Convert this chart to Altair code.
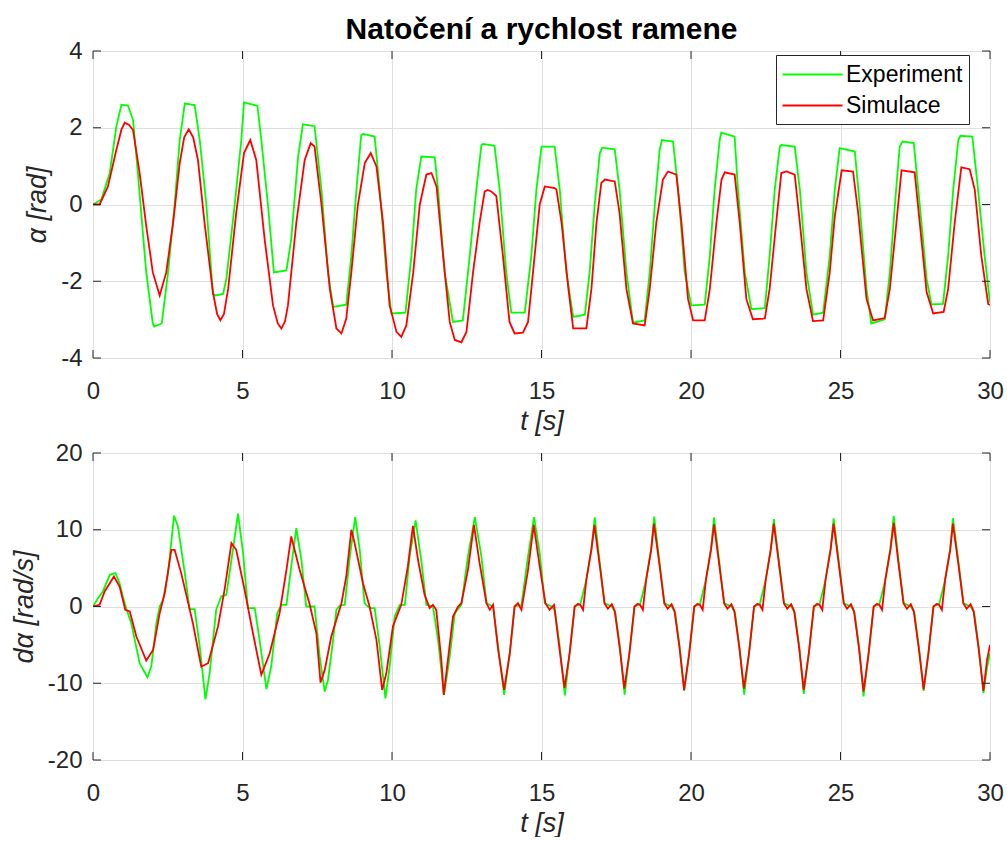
import altair as alt
import pandas as pd

TITLE = "Natočení a rychlost ramene"
SERIES = ["Experiment", "Simulace"]
COLORS = ["#00ff00", "#ff0000"]
X_TICKS = [0, 5, 10, 15, 20, 25, 30]
Y1_TICKS = [-4, -2, 0, 2, 4]
Y2_TICKS = [-20, -10, 0, 10, 20]
X_TITLE = "t [s]"
Y1_TITLE = "α [rad]"
Y2_TITLE = "dα [rad/s]"

# top panel: arm angle (t [s], alpha [rad])
ALPHA_EXP = [
    (0, 0), (0.28, 0.13), (0.56, 0.82), (0.78, 2.03), (0.95, 2.6), (1.17, 2.58), (1.34, 2.2),
    (1.5, 0.82), (1.78, -1.77), (2.0, -3.1), (2.05, -3.18), (2.3, -3.1), (2.51, -1.77), (2.73, 0),
    (2.9, 1.68), (3.07, 2.63), (3.4, 2.59), (3.57, 1.68), (3.79, 0), (4.01, -2.33), (4.1, -2.37),
    (4.35, -2.33), (4.46, -1.94), (4.74, 0), (4.96, 1.68), (5.05, 2.66), (5.5, 2.57), (5.63, 1.68),
    (5.85, 0), (6.05, -1.77), (6.47, -1.72), (6.63, -0.9), (6.86, 1.25), (7.02, 2.09), (7.41, 2.04),
    (7.64, 0.39), (7.86, -1.77), (8.03, -2.67), (8.47, -2.61), (8.64, -1.34), (8.81, 0.39),
    (8.97, 1.81), (9.03, 1.84), (9.42, 1.77), (9.59, 0.39), (9.81, -1.77), (9.98, -2.84),
    (10.45, -2.82), (10.65, -1.34), (10.81, 0.39), (10.98, 1.25), (11.43, 1.23), (11.54, 0.39),
    (11.76, -1.77), (12.04, -3.06), (12.37, -3.02), (12.6, -1.34), (12.82, 0.39), (12.99, 1.55),
    (13.04, 1.58), (13.43, 1.53), (13.6, 0.39), (13.82, -1.77), (13.99, -2.82), (14.44, -2.82),
    (14.66, -1.34), (14.83, 0.39), (15.0, 1.51), (15.44, 1.51), (15.61, 0.39), (15.83, -1.77),
    (16.06, -2.93), (16.45, -2.87), (16.61, -1.77), (16.78, 0), (16.95, 1.34), (17.03, 1.48),
    (17.45, 1.44), (17.61, 0.39), (17.84, -1.77), (18.06, -3.08), (18.45, -3.02), (18.62, -1.77),
    (18.79, 0), (18.95, 1.42), (19.03, 1.68), (19.4, 1.64), (19.57, 0.39), (19.79, -1.77),
    (20.01, -2.63), (20.46, -2.61), (20.63, -1.34), (20.79, 0.39), (20.96, 1.68), (21.01, 1.87),
    (21.46, 1.77), (21.57, 0.39), (21.8, -1.77), (22.02, -2.73), (22.47, -2.7), (22.63, -1.34),
    (22.8, 0.39), (22.97, 1.51), (23.02, 1.55), (23.47, 1.51), (23.64, 0.39), (23.86, -1.77),
    (24.08, -2.87), (24.42, -2.82), (24.64, -1.34), (24.81, 0.39), (24.97, 1.47), (25.48, 1.38),
    (25.64, 0), (25.87, -2.2), (26.03, -3.1), (26.48, -2.99), (26.65, -1.77), (26.82, 0),
    (26.98, 1.51), (27.07, 1.64), (27.45, 1.6), (27.65, 0), (27.88, -1.94), (28.04, -2.6),
    (28.43, -2.59), (28.6, -1.34), (28.77, 0.39), (28.94, 1.68), (29.01, 1.79), (29.41, 1.77),
    (29.6, 0.39), (29.82, -1.34), (30.0, -2.55),
]
ALPHA_SIM = [
    (0, 0), (0.22, 0), (0.5, 0.47), (0.78, 1.42), (0.95, 1.95), (1.06, 2.13), (1.2, 2.08),
    (1.34, 1.94), (1.56, 0.82), (1.78, -0.56), (2.0, -1.77), (2.23, -2.37), (2.45, -1.77),
    (2.68, -0.47), (2.9, 1.08), (3.05, 1.75), (3.2, 1.96), (3.35, 1.75), (3.51, 1.16),
    (3.73, -0.47), (4.01, -2.28), (4.15, -2.85), (4.26, -3.02), (4.38, -2.85), (4.52, -2.2),
    (4.79, -0.22), (5.05, 1.34), (5.26, 1.68), (5.46, 1.16), (5.74, -0.9), (6.02, -2.63),
    (6.18, -3.1), (6.3, -3.23), (6.42, -3.05), (6.52, -2.63), (6.8, -0.47), (7.08, 1.16),
    (7.28, 1.6), (7.41, 1.51), (7.64, 0), (7.92, -2.2), (8.14, -3.23), (8.31, -3.36),
    (8.47, -2.97), (8.64, -1.77), (8.86, 0), (9.09, 1.08), (9.29, 1.34), (9.48, 0.99),
    (9.7, -0.47), (9.92, -2.63), (10.15, -3.32), (10.31, -3.45), (10.48, -3.15), (10.71, -1.77),
    (10.93, 0), (11.15, 0.78), (11.32, 0.82), (11.49, 0.47), (11.71, -1.34), (11.93, -3.06),
    (12.1, -3.53), (12.32, -3.59), (12.49, -3.32), (12.71, -1.77), (12.93, -0.47), (13.1, 0.34),
    (13.2, 0.38), (13.32, 0.34), (13.49, 0.22), (13.71, -1.34), (13.93, -3.06), (14.1, -3.36),
    (14.38, -3.34), (14.55, -3.06), (14.77, -1.34), (14.94, 0), (15.11, 0.47), (15.44, 0.43),
    (15.5, 0.39), (15.67, -0.47), (15.9, -2.2), (16.06, -3.23), (16.5, -3.23), (16.67, -2.2),
    (16.84, -0.47), (17.0, 0.56), (17.12, 0.65), (17.45, 0.6), (17.61, -0.22), (17.84, -2.2),
    (18.06, -3.1), (18.45, -3.15), (18.62, -2.2), (18.84, -0.47), (19.06, 0.65), (19.23, 0.86),
    (19.51, 0.78), (19.68, -0.47), (19.9, -2.46), (20.07, -3.02), (20.46, -3.02), (20.63, -2.2),
    (20.85, -0.47), (21.02, 0.65), (21.13, 0.84), (21.46, 0.78), (21.63, -0.47), (21.85, -2.46),
    (22.07, -2.99), (22.47, -2.97), (22.63, -2.2), (22.85, -0.47), (23.02, 0.82), (23.19, 0.86),
    (23.47, 0.78), (23.64, -0.47), (23.86, -2.2), (24.08, -3.04), (24.42, -3.02), (24.64, -1.77),
    (24.81, -0.3), (25.04, 0.89), (25.42, 0.86), (25.59, -0.22), (25.87, -2.46), (26.09, -3.02),
    (26.48, -2.96), (26.65, -2.2), (26.87, -0.47), (27.04, 0.89), (27.48, 0.84), (27.65, -0.47),
    (27.88, -2.28), (28.1, -2.84), (28.45, -2.8), (28.6, -2.2), (28.82, -0.47), (29.04, 0.97),
    (29.32, 0.92), (29.49, 0.39), (29.71, -1.34), (29.94, -2.59), (30.0, -2.62),
]

# bottom panel: arm angular velocity (t [s], dalpha [rad/s])
DALPHA_EXP = [
    (0, 0), (0.17, 1.09), (0.33, 1.96), (0.56, 4.13), (0.75, 4.35), (0.89, 3.04), (1.0, 1.3),
    (1.11, -0.22), (1.28, -2.17), (1.56, -7.39), (1.82, -9.22), (1.95, -7.83), (2.12, -2.17),
    (2.23, 0), (2.34, 0.87), (2.51, 4.35), (2.71, 11.83), (2.84, 10.43), (3.07, 4.35),
    (3.23, -0.35), (3.4, -0.35), (3.57, -5.22), (3.76, -12.09), (3.9, -8.7), (4.12, -0.43),
    (4.29, 1.3), (4.46, 1.52), (4.63, 6.09), (4.85, 12.09), (5.02, 6.96), (5.18, -0.22),
    (5.41, -0.22), (5.57, -4.35), (5.8, -10.78), (5.96, -7.83), (6.16, -0.87), (6.3, 0.22),
    (6.47, 0.22), (6.63, 5.22), (6.8, 10.22), (6.97, 6.09), (7.13, 0), (7.41, 0), (7.58, -6.5),
    (7.75, -11.09), (7.86, -9.57), (8.03, -4.35), (8.14, -0.43), (8.25, 0.13), (8.42, 0.22),
    (8.59, 6.52), (8.77, 11.65), (8.92, 7.39), (9.08, 0.43), (9.25, -0.22), (9.42, -0.22),
    (9.59, -5.22), (9.78, -11.96), (9.92, -7.83), (10.09, -1.3), (10.26, 0.22), (10.43, 0.22),
    (10.59, 6.52), (10.79, 11.22), (10.99, 5.65), (11.15, 0.22), (11.37, 0), (11.54, -4.35),
    (11.74, -11.52), (11.93, -6.52), (12.1, -0.87), (12.32, 0.22), (12.54, 6.52), (12.77, 11.65),
    (12.99, 6.52), (13.16, 0.43), (13.38, 0), (13.55, -5.22), (13.75, -11.52), (13.94, -6.09),
    (14.1, 0), (14.33, 0.22), (14.55, 6.52), (14.75, 11.65), (14.94, 6.96), (15.11, 0.43),
    (15.33, 0), (15.45, -0.5), (15.61, -5.2), (15.78, -11.6), (15.94, -6.1), (16.11, 0),
    (16.3, 0.3), (16.5, 3.5), (16.67, 7.6), (16.78, 11.6), (16.94, 6.0), (17.11, 0.4),
    (17.35, 0), (17.47, -0.8), (17.62, -5.2), (17.78, -11.5), (17.94, -6.1), (18.11, 0),
    (18.3, 0.3), (18.5, 3.5), (18.67, 7.6), (18.77, 11.7), (18.94, 6.0), (19.11, 0.4),
    (19.35, 0), (19.47, -0.8), (19.62, -5.2), (19.77, -11.0), (19.94, -6.1), (20.11, 0),
    (20.3, 0.3), (20.5, 3.5), (20.67, 7.6), (20.77, 11.6), (20.94, 6.0), (21.11, 0.4),
    (21.35, 0), (21.47, -0.8), (21.62, -5.2), (21.78, -11.5), (21.94, -6.1), (22.11, 0),
    (22.3, 0.3), (22.5, 3.5), (22.67, 7.6), (22.77, 11.4), (22.94, 6.0), (23.11, 0.4),
    (23.35, 0), (23.47, -0.8), (23.62, -5.2), (23.77, -11.4), (23.94, -6.1), (24.11, 0),
    (24.3, 0.3), (24.5, 3.5), (24.67, 7.6), (24.77, 11.5), (24.94, 6.0), (25.11, 0.4),
    (25.35, 0), (25.47, -0.8), (25.62, -5.2), (25.77, -11.7), (25.94, -6.1), (26.11, 0),
    (26.3, 0.3), (26.5, 3.5), (26.67, 7.6), (26.78, 11.8), (26.94, 6.0), (27.11, 0.4),
    (27.35, 0), (27.47, -0.8), (27.62, -5.2), (27.78, -11.0), (27.94, -6.1), (28.11, 0),
    (28.3, 0.3), (28.5, 3.5), (28.67, 7.6), (28.76, 11.5), (28.94, 6.0), (29.11, 0.4),
    (29.35, 0), (29.47, -0.8), (29.62, -5.2), (29.78, -11.3), (29.9, -8.0), (30.0, -6.1),
]
DALPHA_SIM = [
    (0, 0), (0.22, 0.22), (0.39, 1.96), (0.7, 3.91), (0.89, 2.61), (1.08, -0.43), (1.23, -0.65),
    (1.45, -3.91), (1.78, -7.04), (2.01, -5.65), (2.23, -0.87), (2.4, 1.74), (2.62, 7.39),
    (2.73, 7.39), (2.95, 4.35), (3.34, -2.17), (3.62, -7.83), (3.85, -7.39), (4.18, -2.61),
    (4.4, 2.17), (4.63, 8.26), (4.79, 7.39), (5.07, 2.17), (5.35, -3.48), (5.63, -8.91),
    (5.91, -6.09), (6.24, -0.87), (6.47, 4.78), (6.63, 9.13), (6.91, 4.78), (7.25, 0.22),
    (7.47, -3.48), (7.61, -9.91), (7.75, -8.26), (7.97, -3.91), (8.14, -1.74), (8.31, 0.43),
    (8.47, 3.91), (8.64, 10.0), (8.75, 8.26), (9.03, 3.04), (9.25, 0), (9.48, -4.35),
    (9.67, -10.87), (9.81, -8.7), (10.03, -2.61), (10.2, -0.87), (10.31, 0.22), (10.53, 5.22),
    (10.7, 10.52), (10.87, 6.09), (11.09, 1.52), (11.26, -0.22), (11.37, 0.22), (11.48, -0.43),
    (11.65, -6.96), (11.73, -11.52), (11.87, -6.96), (12.04, -1.3), (12.21, 0), (12.32, 0.43),
    (12.54, 4.78), (12.74, 10.65), (12.93, 5.65), (13.16, 0.43), (13.27, -0.43), (13.38, 0.22),
    (13.55, -5.65), (13.75, -10.87), (13.94, -6.09), (14.1, 0), (14.21, 0.43), (14.33, -0.43),
    (14.55, 4.78), (14.74, 10.65), (14.94, 5.22), (15.13, 0.43), (15.27, -0.43), (15.42, 0.22),
    (15.6, -5.5), (15.77, -10.6), (15.94, -6.1), (16.11, 0), (16.22, 0.35), (16.3, 0.2),
    (16.39, -0.43), (16.5, 3.5), (16.67, 7.4), (16.77, 10.6), (16.94, 5.6), (17.11, 0.4),
    (17.22, -0.3), (17.35, 0.3), (17.45, -0.6), (17.62, -5.5), (17.77, -10.7), (17.94, -6.1),
    (18.11, 0), (18.22, 0.35), (18.3, 0.2), (18.39, -0.43), (18.5, 3.5), (18.67, 7.4),
    (18.76, 10.8), (18.94, 5.6), (19.11, 0.4), (19.22, -0.3), (19.35, 0.3), (19.45, -0.6),
    (19.62, -5.5), (19.77, -10.9), (19.94, -6.1), (20.11, 0), (20.22, 0.35), (20.3, 0.2),
    (20.39, -0.43), (20.5, 3.5), (20.67, 7.4), (20.77, 10.7), (20.94, 5.6), (21.11, 0.4),
    (21.22, -0.3), (21.35, 0.3), (21.45, -0.6), (21.62, -5.5), (21.77, -10.7), (21.94, -6.1),
    (22.11, 0), (22.22, 0.35), (22.3, 0.2), (22.39, -0.43), (22.5, 3.5), (22.67, 7.4),
    (22.77, 10.8), (22.94, 5.6), (23.11, 0.4), (23.22, -0.3), (23.35, 0.3), (23.45, -0.6),
    (23.62, -5.5), (23.77, -10.9), (23.94, -6.1), (24.11, 0), (24.22, 0.35), (24.3, 0.2),
    (24.39, -0.43), (24.5, 3.5), (24.67, 7.4), (24.77, 10.8), (24.94, 5.6), (25.11, 0.4),
    (25.22, -0.3), (25.35, 0.3), (25.45, -0.6), (25.62, -5.5), (25.77, -11.1), (25.94, -6.1),
    (26.11, 0), (26.22, 0.35), (26.3, 0.2), (26.39, -0.43), (26.5, 3.5), (26.67, 7.4),
    (26.78, 10.9), (26.94, 5.6), (27.11, 0.4), (27.22, -0.3), (27.35, 0.3), (27.45, -0.6),
    (27.62, -5.5), (27.78, -10.8), (27.94, -6.1), (28.11, 0), (28.22, 0.35), (28.3, 0.2),
    (28.39, -0.43), (28.5, 3.5), (28.67, 7.4), (28.76, 10.8), (28.94, 5.6), (29.11, 0.4),
    (29.22, -0.3), (29.35, 0.3), (29.45, -0.6), (29.62, -5.5), (29.78, -11.0), (29.9, -7.0),
    (30.0, -5.0),
]

FONT = "Liberation Sans"
INK = "#262626"
GRID = "#dfdfdf"
W, H = 897, 307
TICK = 8
HYPHEN_LABEL = "'' + datum.value"


def frame(points, name):
    return pd.DataFrame({
        "t": [p[0] for p in points],
        "v": [p[1] for p in points],
        "series": name,
    })


def panel(exp, sim, yticks, ytitle, legend):
    df = pd.concat([frame(exp, SERIES[0]), frame(sim, SERIES[1])], ignore_index=True)
    df["i"] = range(len(df))

    x_enc = alt.X(
        "t:Q",
        scale=alt.Scale(domain=[X_TICKS[0], X_TICKS[-1]], nice=False, zero=False),
        axis=alt.Axis(
            values=X_TICKS, title=X_TITLE, grid=True, gridColor=GRID, ticks=False,
            domain=False, labelFlush=False, labelOverlap=False, labelPadding=21,
            labelFontSize=24, labelFont=FONT, labelColor=INK, labelExpr=HYPHEN_LABEL,
            titleFont=FONT, titleFontSize=27, titleFontStyle="italic",
            titleFontWeight="normal", titleColor=INK, titlePadding=5,
        ),
    )
    y_enc = alt.Y(
        "v:Q",
        scale=alt.Scale(domain=[yticks[0], yticks[-1]], nice=False, zero=False),
        axis=alt.Axis(
            values=yticks, title=ytitle, grid=True, gridColor=GRID, ticks=False,
            domain=False, labelOverlap=False, labelPadding=11,
            labelFontSize=24, labelFont=FONT, labelColor=INK, labelExpr=HYPHEN_LABEL,
            titleFont=FONT, titleFontSize=27, titleFontStyle="italic",
            titleFontWeight="normal", titleColor=INK, titlePadding=9,
        ),
    )
    if legend:
        leg = alt.Legend(
            title=None, orient="none", legendX=683, legendY=4, direction="vertical",
            fillColor="white", strokeColor=INK, padding=6, cornerRadius=0,
            labelFont=FONT, labelFontSize=23, labelColor="#000",
            symbolType="M-2.4,0H2.4", symbolSize=625, symbolStrokeWidth=1.8,
            symbolOffset=17, labelOffset=20, rowPadding=5,
        )
    else:
        leg = None
    color = alt.Color("series:N", scale=alt.Scale(domain=SERIES, range=COLORS), legend=leg)

    lines = alt.Chart(df).mark_line(strokeWidth=1.8, clip=True).encode(
        x=x_enc, y=y_enc, color=color, order="i:Q"
    )
    xt = pd.DataFrame({"t": X_TICKS})
    yt = pd.DataFrame({"v": yticks})
    tb = alt.Chart(xt).mark_rule(color=INK, strokeWidth=1)
    ty = alt.Chart(yt).mark_rule(color=INK, strokeWidth=1)
    ticks = [
        tb.encode(x=x_enc, y=alt.value(0), y2=alt.value(TICK)),
        tb.encode(x=x_enc, y=alt.value(H), y2=alt.value(H - TICK)),
        ty.encode(y=y_enc, x=alt.value(0), x2=alt.value(TICK)),
        ty.encode(y=y_enc, x=alt.value(W), x2=alt.value(W - TICK)),
    ]
    return alt.layer(lines, *ticks).properties(width=W, height=H)


top = panel(ALPHA_EXP, ALPHA_SIM, Y1_TICKS, Y1_TITLE, True).properties(
    title=alt.TitleParams(
        TITLE, font=FONT, fontSize=30, fontWeight="bold", color="#000",
        anchor="middle", frame="group", offset=-6,
    )
)
bottom = panel(DALPHA_EXP, DALPHA_SIM, Y2_TICKS, Y2_TITLE, False)

chart = (
    alt.vconcat(top, bottom, spacing=5)
    .resolve_legend(color="independent")
    .resolve_scale(y="independent")
    .properties(padding={"left": 9, "top": 14, "right": 3, "bottom": 0})
    .configure_view(stroke=INK, strokeWidth=1)
    .configure(background="white")
)

chart.save("out.html", embed_options={"renderer": "svg", "actions": False})
